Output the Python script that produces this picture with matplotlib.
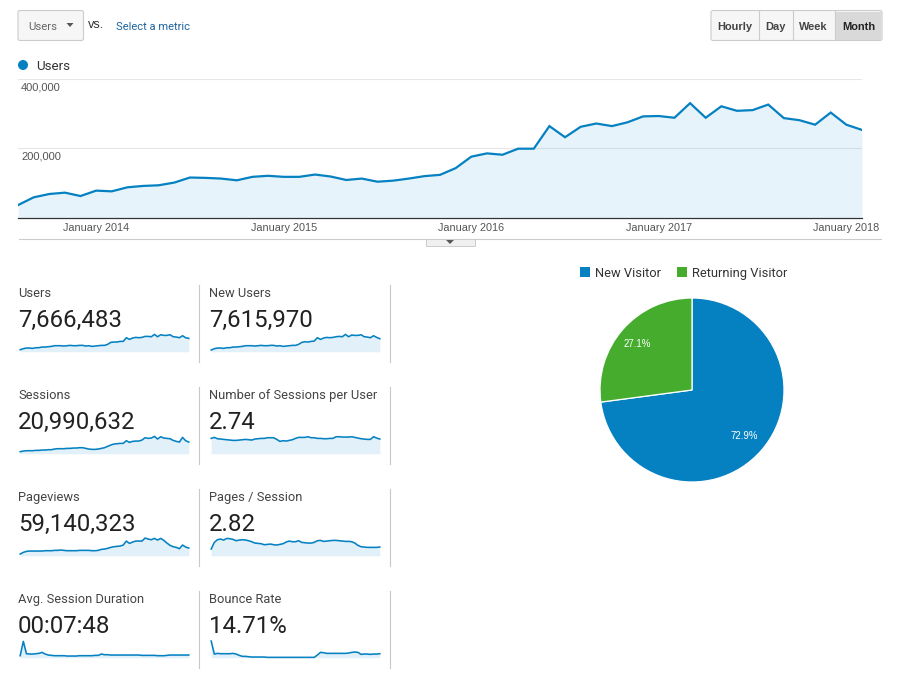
import matplotlib
matplotlib.use('Agg')
import numpy as np
import matplotlib.pyplot as plt
from matplotlib.patches import FancyBboxPatch, Rectangle, Polygon, Circle

W, H = 898, 686
BLUE = '#0581c2'
GREEN = '#45ac2e'

# monthly users
users = [35700, 58000, 67600, 71500, 61800, 77300, 75300, 86900, 90800, 92700, 100500,
         115000, 114000, 112000, 107000, 117000, 120000, 117000, 117000, 123600, 118000,
         108000, 112000, 103000, 106000, 112000, 119000, 122700, 142000, 175000, 184500,
         180600, 198000, 198000, 263000, 231000, 261000, 270500, 263000, 274000, 291000,
         292000, 287000, 329000, 287000, 320000, 307000, 309000, 325000, 286000, 280000,
         267000, 302000, 267000, 252000]
x_ticks = [5, 17, 29, 41, 53]
x_labels = ['January 2014', 'January 2015', 'January 2016', 'January 2017', 'January 2018']
y_ticks = [200000, 400000]
y_labels = ['200,000', '400,000']

# sparklines, heights above the baseline on a 0-52 scale
spark_users = [6, 9, 11, 11, 10, 12, 12, 14, 14, 15, 16, 18, 18, 18, 17, 18, 19, 18, 18, 19, 19,
               17, 18, 16, 17, 18, 19, 19, 22, 28, 29, 29, 31, 31, 42, 37, 41, 43, 42, 43, 46,
               46, 45, 52, 45, 51, 49, 49, 51, 45, 44, 42, 48, 42, 40]
spark_new_users = [5, 9, 11, 11, 10, 12, 12, 14, 14, 15, 16, 18, 18, 18, 17, 18, 19, 18, 18, 19, 19,
                   17, 18, 16, 17, 18, 19, 19, 22, 28, 30, 29, 31, 32, 42, 37, 41, 43, 42, 43, 45,
                   46, 45, 52, 45, 50, 49, 49, 51, 45, 44, 42, 48, 43, 39]
spark_sessions = [6, 8, 9, 9, 9, 10, 10, 11, 11, 12, 12, 14, 15, 15, 15, 16, 16, 17, 17, 18, 18,
                  16, 14, 13, 13, 14, 16, 18, 22, 26, 29, 30, 31, 31, 39, 34, 37, 38, 38, 41, 48,
                  46, 47, 52, 44, 51, 47, 46, 45, 40, 37, 35, 49, 39, 35]
spark_per_user = [46, 49, 45, 44, 43, 42, 41, 40, 40, 41, 42, 43, 42, 41, 44, 45, 46, 46, 48, 48, 48,
                  43, 37, 39, 38, 40, 42, 46, 49, 49, 49, 51, 48, 48, 46, 46, 45, 45, 46, 46, 51,
                  51, 50, 50, 50, 51, 49, 47, 45, 44, 43, 43, 51, 47, 44]
spark_pageviews = [5, 10, 13, 14, 14, 14, 14, 14, 15, 15, 15, 16, 16, 17, 16, 15, 15, 15, 15, 16, 16,
                   16, 16, 15, 15, 16, 19, 20, 22, 25, 27, 28, 29, 32, 44, 37, 41, 44, 44, 44, 53,
                   50, 48, 52, 47, 52, 46, 38, 31, 27, 25, 21, 32, 26, 23]
spark_pages = [20, 40, 48, 50, 47, 52, 51, 49, 45, 47, 48, 47, 45, 42, 38, 37, 36, 33, 34, 35, 33,
               32, 34, 36, 41, 44, 42, 42, 45, 40, 39, 38, 38, 40, 45, 46, 43, 44, 45, 46, 46,
               45, 44, 43, 43, 42, 38, 31, 27, 26, 25, 25, 25, 25, 26]
spark_duration = [6, 49, 12, 11, 11, 12, 13, 16, 11, 8, 7, 6, 6, 6, 6, 5, 5, 5, 5, 6, 6,
                  6, 6, 6, 7, 7, 11, 9, 9, 8, 8, 8, 8, 8, 8, 8, 8, 8, 8, 7, 7,
                  7, 7, 7, 6, 6, 6, 7, 8, 8, 8, 8, 8, 8, 8]
spark_bounce = [50, 11, 13, 12, 12, 12, 12, 13, 11, 7, 4, 4, 3, 2, 2, 2, 2, 2, 1, 1, 1,
                1, 1, 1, 1, 1, 1, 1, 1, 1, 1, 1, 1, 1, 8, 16, 15, 13, 13, 13, 13,
                13, 13, 13, 14, 16, 17, 16, 10, 11, 11, 10, 11, 11, 12]

metric_names = ['Users', 'New Users', 'Sessions', 'Number of Sessions per User',
                'Pageviews', 'Pages / Session', 'Avg. Session Duration', 'Bounce Rate']
metric_values = ['7,666,483', '7,615,970', '20,990,632', '2.74',
                 '59,140,323', '2.82', '00:07:48', '14.71%']
metric_sparks = [spark_users, spark_new_users, spark_sessions, spark_per_user,
                 spark_pageviews, spark_pages, spark_duration, spark_bounce]

pie_labels = ['New Visitor', 'Returning Visitor']
pie_values = [72.9, 27.1]

plt.rcParams['font.family'] = ['Roboto', 'DejaVu Sans']


def px_axes(fig, x0, y0, x1, y1, **kw):
    # axes placed in picture pixels, y counted from the top
    return fig.add_axes([x0 / W, 1 - y1 / H, (x1 - x0) / W, (y1 - y0) / H], **kw)


fig = plt.figure(figsize=(W / 100, H / 100), dpi=100, facecolor='white')

# overlay for the page furniture
ui = px_axes(fig, 0, 0, W, H)
ui.set_xlim(0, W)
ui.set_ylim(H, 0)
ui.axis('off')


def button(x0, y0, x1, y1, color='#f6f6f6'):
    ui.add_patch(FancyBboxPatch((x0 + 2, y0 + 2), x1 - x0 - 4, y1 - y0 - 4,
                                boxstyle='round,pad=2,rounding_size=2',
                                fc=color, ec='#cccccc', lw=0.8))


button(18, 10.5, 83.5, 40.5)
ui.text(28, 29.5, 'Users', fontsize=8.2, color='#666666', va='baseline')
ui.add_patch(Polygon([(66.5, 23), (73.5, 23), (70, 27)], fc='#555555', ec='none'))
ui.text(88, 28, 'vs.', fontsize=9.2, color='#333333', va='baseline',
        family=['Liberation Sans'])
ui.text(116, 29.5, 'Select a metric', fontsize=8.0, color='#1c639e', va='baseline')

# Hourly / Day / Week / Month
button(711, 10.5, 882, 40.5)
ui.add_patch(Rectangle((835, 11.5), 46, 28, fc='#d9d9d9', ec='none'))
for x in [758.5, 792.5, 834.5]:
    ui.plot([x, x], [11, 40], color='#cccccc', lw=0.8)
for label, x, col in [('Hourly', 735, '#444444'), ('Day', 775.5, '#444444'),
                      ('Week', 813.5, '#444444'), ('Month', 858.5, '#222222')]:
    ui.text(x, 29.5, label, fontsize=7.9, fontweight='bold', color=col, ha='center', va='baseline',
            family=['Liberation Sans'])

# legend of the big chart
ui.add_patch(Circle((23, 65), 5, fc=BLUE, ec='none'))
ui.text(36, 70, 'Users', fontsize=9.6, color='#333333', va='baseline')

# big chart
ax = px_axes(fig, 18, 78.5, 862, 217.5)
ax.patch.set_alpha(0)
xs = np.arange(len(users))
ax.fill_between(xs, users, 0, color='#1a8fd8', alpha=0.1, lw=0, zorder=3)
ax.plot(xs, users, color=BLUE, lw=1.6, zorder=4, solid_joinstyle='miter')
ax.set_xlim(0, len(users) - 1)
ax.set_ylim(0, 400000)
for s in ['top', 'left', 'right']:
    ax.spines[s].set_visible(False)
ax.spines['bottom'].set_color('#333333')
ax.spines['bottom'].set_linewidth(0.9)
ax.set_yticks(y_ticks)
ax.set_yticklabels([])
ax.tick_params(axis='y', length=0)
ax.grid(axis='y', color='#e6e6e6', lw=0.8, zorder=1)
ax.set_xticks(x_ticks)
ax.set_xticklabels(x_labels, fontsize=7.85, color='#555555', family=['Liberation Sans'])
ax.tick_params(axis='x', length=0, pad=4)
for val, lab in zip(y_ticks, y_labels):
    ax.annotate(lab, (0, val), xycoords=('axes fraction', 'data'), xytext=(2.2, -2.8),
                textcoords='offset points', fontsize=8.0, color='#555555', va='top', ha='left',
                family=['Liberation Sans'], zorder=5)

# rule and little tab under the chart
ui.plot([19, 881], [238.5, 238.5], color='#cccccc', lw=0.8)
ui.add_patch(Rectangle((425.5, 238.5), 49, 7.5, fc='#f0f0f0', ec='#cccccc', lw=0.7))
ui.add_patch(Polygon([(446, 240), (454, 240), (450, 244)], fc='#555555', ec='none'))

# metric tiles
col_x = [18, 209]
row_y = [285, 387, 489, 591]
for i, (name, value, spark) in enumerate(zip(metric_names, metric_values, metric_sparks)):
    r, c = i // 2, i % 2
    left, top = col_x[c], row_y[r]
    ui.text(left, top + 12, name, fontsize=9.3, color='#444444', va='baseline')
    ui.text(left, top + 42, value, fontsize=17.25, color='#222222', va='baseline')
    ui.plot([left + 180.5] * 2, [top, top + 77], color='#c8c8c8', lw=0.8)
    sp = px_axes(fig, left + 2.2, top + 49.4, left + 170.8, top + 66.7)
    sp.patch.set_alpha(0)
    sx = np.arange(len(spark))
    sp.fill_between(sx, spark, 0, color='#1a8fd8', alpha=0.13, lw=0)
    sp.plot(sx, spark, color=BLUE, lw=1.15, clip_on=False)
    sp.set_xlim(0, len(spark) - 1)
    sp.set_ylim(0, 52)
    sp.axis('off')

# pie
pie_ax = px_axes(fig, 692 - 92, 390 - 92, 692 + 92, 390 + 92)
wedges, _ = pie_ax.pie(pie_values, colors=[BLUE, GREEN], startangle=90, counterclock=False,
                       radius=1.0, wedgeprops={'edgecolor': 'white', 'linewidth': 0.9})
pie_ax.set_xlim(-1, 1)
pie_ax.set_ylim(-1, 1)
for x, y, val in [(744, 436, pie_values[0]), (637.5, 344, pie_values[1])]:
    ui.text(x, y, f'{val}%', fontsize=6.9, color='white', ha='center', va='center', zorder=10,
            family=['Liberation Sans'])
fig.axes[0].set_zorder(5)

# pie legend
for x, col, lab, tx in [(580, BLUE, pie_labels[0], 595), (677, GREEN, pie_labels[1], 692)]:
    ui.add_patch(Rectangle((x, 267), 10, 10, fc=col, ec='none'))
    ui.text(tx, 277, lab, fontsize=9.3, color='#333333', va='baseline')

fig.savefig('out.png', dpi=100)
